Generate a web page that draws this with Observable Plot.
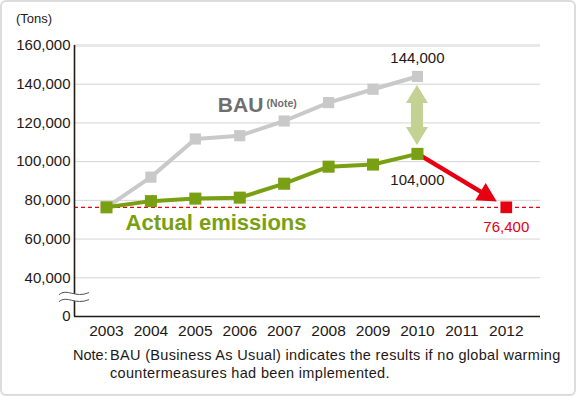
<!DOCTYPE html>
<html><head><meta charset="utf-8">
<script src="https://cdn.jsdelivr.net/npm/d3@7"></script>
<script src="https://cdn.jsdelivr.net/npm/@observablehq/plot@0.6"></script>
<style>
html,body{margin:0;padding:0;background:#fff;}
#wrap{position:relative;width:576px;height:396px;overflow:hidden;font-family:"Liberation Sans",Arial,sans-serif;color:#231815;}
#border{position:absolute;left:0;top:0;width:576px;height:396px;box-sizing:border-box;border:2px solid #dcdcdc;border-radius:6px;pointer-events:none;}
#unit{position:absolute;left:16px;top:11px;font-size:13px;}
#chart{position:absolute;left:0;top:0;}
#note{position:absolute;left:73px;top:346px;font-size:14.5px;line-height:18px;display:flex;white-space:nowrap;}
#note .lead{width:37px;flex:none;}
#note .body{letter-spacing:0.33px;}
</style></head><body>
<div id="wrap">
  <div id="chart"></div>
  <div id="unit">(Tons)</div>
  <div id="note"><span class="lead">Note:</span><span class="body">BAU (Business As Usual) indicates the results if no global warming<br>countermeasures had been implemented.</span></div>
  <div id="border"></div>
</div>
<script>
// ---- data ----
const years = [2003, 2004, 2005, 2006, 2007, 2008, 2009, 2010, 2011, 2012];
const bauYears = [2003, 2004, 2005, 2006, 2007, 2008, 2009, 2010];
const bauValues = [76400, 92000, 111700, 113400, 121000, 130500, 137400, 144000];
const actualYears = [2003, 2004, 2005, 2006, 2007, 2008, 2009, 2010];
const actualValues = [76400, 79600, 80900, 81400, 88600, 97400, 98500, 104000];
const targetYear = 2012;
const targetValue = 76400;
const yTickValues = [20000, 40000, 60000, 80000, 100000, 120000, 140000, 160000];
const yTickLabels = ["0", "40,000", "60,000", "80,000", "100,000", "120,000", "140,000", "160,000"];
const breakValue = 30000;

const bau = bauYears.map((x, i) => ({x, y: bauValues[i]}));
const actual = actualYears.map((x, i) => ({x, y: actualValues[i]}));
const target = [{x: targetYear, y: targetValue}];

const GREEN = "#79a012", GRAY = "#c9c9c9", RED = "#e60012", DARK = "#231815", ARROW = "#c3d293";
const xDomain = [years[0] - 0.72, years[years.length - 1] + 0.77];
const yDomain = [yTickValues[0], yTickValues[yTickValues.length - 1]];

function redArrow(index, {x, y}) {
  const g = d3.create("svg:g");
  const x0 = x(actualYears[actualYears.length - 1]), y0 = y(actualValues[actualValues.length - 1]);
  const x1 = x(targetYear), y1 = y(targetValue);
  const dx = x1 - x0, dy = y1 - y0, L = Math.hypot(dx, dy), ux = dx / L, uy = dy / L;
  const gap = 10.5, head = 19, hw = 10;
  const tx = x1 - ux * gap, ty = y1 - uy * gap;
  const bx = tx - ux * head, by = ty - uy * head;
  g.append("line").attr("x1", x0).attr("y1", y0).attr("x2", bx + ux * 3).attr("y2", by + uy * 3)
    .attr("stroke", RED).attr("stroke-width", 4.5);
  g.append("path").attr("d", `M${tx},${ty}L${bx - uy * hw},${by + ux * hw}L${bx + uy * hw},${by - ux * hw}Z`)
    .attr("fill", RED);
  return g.node();
}

function doubleArrow(index, {x, y}) {
  const g = d3.create("svg:g");
  const cx = x(bauYears[bauYears.length - 1]);
  const top = y(bauValues[bauValues.length - 1]) + 9;
  const bot = y(actualValues[actualValues.length - 1]) - 8.5;
  const head = 18, hw = 11, sw = 6;
  const d = `M${cx},${top}L${cx + hw},${top + head}L${cx + sw},${top + head}L${cx + sw},${bot - head}L${cx + hw},${bot - head}` +
            `L${cx},${bot}L${cx - hw},${bot - head}L${cx - sw},${bot - head}L${cx - sw},${top + head}L${cx - hw},${top + head}Z`;
  g.append("path").attr("d", d).attr("fill", ARROW);
  return g.node();
}

function breakMark(index, {x, y}) {
  const g = d3.create("svg:g");
  const cx = x(xDomain[0]), cy = y(breakValue);
  const wave = (o) => `M${cx - 15},${cy + o + 1}C${cx - 7},${cy + o - 6} ${cx + 1},${cy + o + 5} ${cx + 15},${cy + o - 1}`;
  const o1 = -3, o2 = 4;
  g.append("path").attr("d", wave(o1) + `L${cx + 15},${cy + o2 - 1}C${cx + 1},${cy + o2 + 5} ${cx - 7},${cy + o2 - 6} ${cx - 15},${cy + o2 + 1}Z`)
    .attr("fill", "#fff").attr("stroke", "none");
  g.append("path").attr("d", wave(o1)).attr("fill", "none").attr("stroke", "#555").attr("stroke-width", 1);
  g.append("path").attr("d", wave(o2)).attr("fill", "none").attr("stroke", "#555").attr("stroke-width", 1);
  return g.node();
}

const chart = Plot.plot({
  width: 576,
  height: 346,
  marginTop: 45,
  marginBottom: 30,
  marginLeft: 74,
  marginRight: 36,
  style: {fontFamily: "'Liberation Sans', Arial, sans-serif", fontSize: "15px", color: DARK, background: "transparent", overflow: "visible"},
  x: {domain: xDomain, label: null},
  y: {domain: yDomain, label: null},
  marks: [
    Plot.ruleY(yTickValues.slice(1, -1), {stroke: "#d4d4d4", strokeWidth: 1}),
    Plot.ruleY(yTickValues.slice(-1), {stroke: "#e8e8e8", strokeWidth: 3}),
    Plot.ruleY([targetValue], {stroke: RED, strokeWidth: 1.4, strokeDasharray: "4,3"}),
    Plot.line(bau, {x: "x", y: "y", stroke: GRAY, strokeWidth: 4}),
    Plot.dot(bau, {x: "x", y: "y", symbol: "square", r: 6.3, fill: GRAY}),
    redArrow,
    Plot.line(actual, {x: "x", y: "y", stroke: GREEN, strokeWidth: 4}),
    Plot.dot(actual, {x: "x", y: "y", symbol: "square", r: 6.8, fill: GREEN}),
    Plot.dot(target, {x: "x", y: "y", symbol: "square", r: 6.6, fill: RED}),
    doubleArrow,
    Plot.ruleX([xDomain[0]], {y1: yDomain[0], y2: yDomain[1], stroke: DARK, strokeWidth: 1.6}),
    Plot.ruleY([yDomain[0]], {stroke: DARK, strokeWidth: 1.6}),
    breakMark,
    Plot.axisY(yTickValues, {tickSize: 0, tickPadding: 4, tickFormat: (d) => yTickLabels[yTickValues.indexOf(d)], fontSize: 15}),
    Plot.axisX(years, {tickSize: 0, tickPadding: 8, tickFormat: (d) => String(d), fontSize: 15.5}),
    Plot.text([bau[bau.length - 1]], {x: "x", y: "y", text: (d) => d3.format(",")(d.y), dy: -18, fill: DARK, fontSize: 15}),
    Plot.text([actual[actual.length - 1]], {x: "x", y: "y", text: (d) => d3.format(",")(d.y), dy: 26, fill: DARK, fontSize: 15}),
    Plot.text(target, {x: "x", y: "y", text: (d) => d3.format(",")(d.y), dy: 20, fill: RED, fontSize: 15}),
    Plot.text(["BAU"], {x: 2006.53, y: 129000, text: (d) => d, textAnchor: "end", fill: "#6e6e6e", fontSize: 21, fontWeight: "bold"}),
    Plot.text(["(Note)"], {x: 2006.6, y: 130000, text: (d) => d, textAnchor: "start", fill: "#6e6e6e", fontSize: 10.5, fontWeight: "bold"}),
    Plot.text(["Actual emissions"], {x: 2003.43, y: 68500, text: (d) => d, textAnchor: "start", fill: GREEN, fontSize: 22, fontWeight: "bold"})
  ]
});
document.getElementById("chart").appendChild(chart);
</script>
</body></html>
